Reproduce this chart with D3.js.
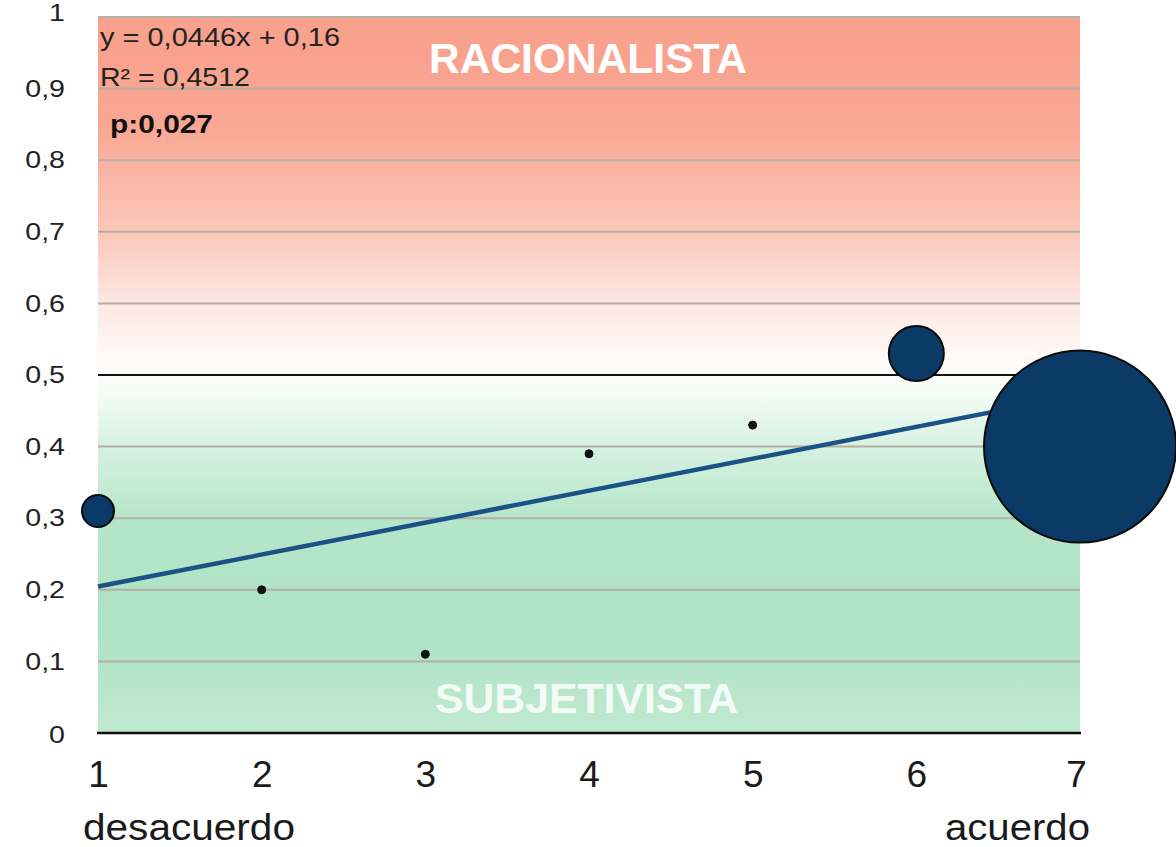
<!DOCTYPE html>
<html><head><meta charset="utf-8">
<script src="https://cdn.jsdelivr.net/npm/d3@7"></script>
<style>body{margin:0;background:#fff}svg{display:block}text{font-family:"Liberation Sans",Arial,Helvetica,sans-serif}</style>
</head><body><svg id="c" width="1176" height="847"></svg>
<script>
const xValues = [1, 2, 3, 4, 5, 6, 7];
const yValues = [0.31, 0.20, 0.11, 0.39, 0.43, 0.53, 0.40];
const bubbleSizes = [16, 4, 4, 4, 4, 27.5, 96];
const yTicks = [0, 0.1, 0.2, 0.3, 0.4, 0.5, 0.6, 0.7, 0.8, 0.9, 1];
const xTicks = [1, 2, 3, 4, 5, 6, 7];
const trendSlope = 0.0446, trendIntercept = 0.16;

const svg = d3.select("#c");
const x = d3.scaleLinear().domain([1, 7]).range([98, 1080]);
const y = d3.scaleLinear().domain([0, 1]).range([733, 17]);

const defs = svg.append("defs");
const g = defs.append("linearGradient").attr("id","bg").attr("x1",0).attr("y1",0).attr("x2",0).attr("y2",1);
[[0,"#f8a08c"],[0.15,"#f9a793"],[0.3,"#fbc7ba"],[0.4,"#fde8e3"],[0.48,"#fffbfa"],[0.52,"#f6fcf8"],[0.6,"#d6f1e1"],[0.7,"#b6e6ca"],[0.85,"#aee2c4"],[1,"#c0e9d0"]]
 .forEach(([o,c])=>g.append("stop").attr("offset",o).attr("stop-color",c));

svg.append("rect").attr("x",x(1)).attr("y",y(1)).attr("width",x(7)-x(1)).attr("height",y(0)-y(1)).attr("fill","url(#bg)");

// gridlines
svg.append("g").selectAll("line").data(yTicks.filter(d=>d!==0 && d!==0.5)).join("line")
  .attr("x1",x(1)).attr("x2",x(7)).attr("y1",d=>y(d)).attr("y2",d=>y(d))
  .attr("stroke","#b3b0a4").attr("stroke-width",2);
svg.append("line").attr("x1",x(1)).attr("x2",x(7)).attr("y1",y(0.5)).attr("y2",y(0.5)).attr("stroke","#111").attr("stroke-width",2);
svg.append("line").attr("x1",x(1)-1).attr("x2",x(7)+1).attr("y1",y(0)).attr("y2",y(0)).attr("stroke","#111").attr("stroke-width",2.5);

// y axis labels
const yAxis = d3.axisLeft(y).tickValues(yTicks).tickSize(0).tickPadding(0)
  .tickFormat(d=>d3.format(".1~f")(d).replace(".",","));
const ya = svg.append("g").attr("transform","translate(65,0)").call(yAxis);
ya.select(".domain").remove();
ya.selectAll("text").attr("font-size",24).attr("fill","#222").attr("font-family","Liberation Sans, Arial, sans-serif")
  .attr("transform","scale(1.19,1)");
ya.selectAll(".tick").filter(d=>d===1).select("text").attr("dy","0.15em");
ya.selectAll(".tick").filter(d=>d===0).select("text").attr("dy","0.4em");

// x axis labels
const xAxis = d3.axisBottom(x).tickValues(xTicks).tickSize(0).tickPadding(0).tickFormat(d3.format("d"));
const xa = svg.append("g").attr("transform","translate(0,761)").call(xAxis);
xa.select(".domain").remove();
xa.selectAll("text").attr("font-size",37).attr("fill","#1a1a1a").attr("font-family","Liberation Sans, Arial, sans-serif");
xa.selectAll(".tick").filter(d=>d===7).select("text").attr("dx","-4");

svg.append("text").attr("x",83).attr("y",840).attr("font-size",37).attr("fill","#1a1a1a")
  .attr("textLength",212).attr("lengthAdjust","spacingAndGlyphs").text("desacuerdo");
svg.append("text").attr("x",945).attr("y",840).attr("font-size",37).attr("fill","#1a1a1a")
  .attr("textLength",145).attr("lengthAdjust","spacingAndGlyphs").text("acuerdo");

// category labels
svg.append("text").attr("x",429).attr("y",73).attr("font-size",43).attr("font-weight","bold").attr("fill","#fff")
  .attr("textLength",318).attr("lengthAdjust","spacingAndGlyphs").text("RACIONALISTA");
svg.append("text").attr("x",435).attr("y",713).attr("font-size",43).attr("font-weight","bold").attr("fill","#f4fbf6")
  .attr("textLength",303).attr("lengthAdjust","spacingAndGlyphs").text("SUBJETIVISTA");

// equation text
svg.append("text").attr("x",100).attr("y",46).attr("font-size",25).attr("fill","#222")
  .attr("textLength",240).attr("lengthAdjust","spacingAndGlyphs").text("y = 0,0446x + 0,16");
svg.append("text").attr("x",100).attr("y",86).attr("font-size",25).attr("fill","#222")
  .attr("textLength",150).attr("lengthAdjust","spacingAndGlyphs").text("R² = 0,4512");
svg.append("text").attr("x",110).attr("y",133).attr("font-size",25).attr("font-weight","bold").attr("fill","#111")
  .attr("textLength",103).attr("lengthAdjust","spacingAndGlyphs").text("p:0,027");

// trend line
svg.append("line").attr("x1",x(1)).attr("x2",x(7))
  .attr("y1",y(trendSlope*1+trendIntercept)).attr("y2",y(trendSlope*7+trendIntercept))
  .attr("stroke","#1b5285").attr("stroke-width",4.5);

// bubbles
const pts = xValues.map((v,i)=>({x:v,y:yValues[i],r:bubbleSizes[i]}));
svg.append("g").selectAll("circle").data(pts).join("circle")
  .attr("cx",d=>x(d.x)).attr("cy",d=>y(d.y)).attr("r",d=>d.r)
  .attr("fill",d=>d.r>5?"#0b3a66":"#111").attr("stroke","#0a0a0a").attr("stroke-width",d=>d.r>5?2:1);
</script></body></html>
